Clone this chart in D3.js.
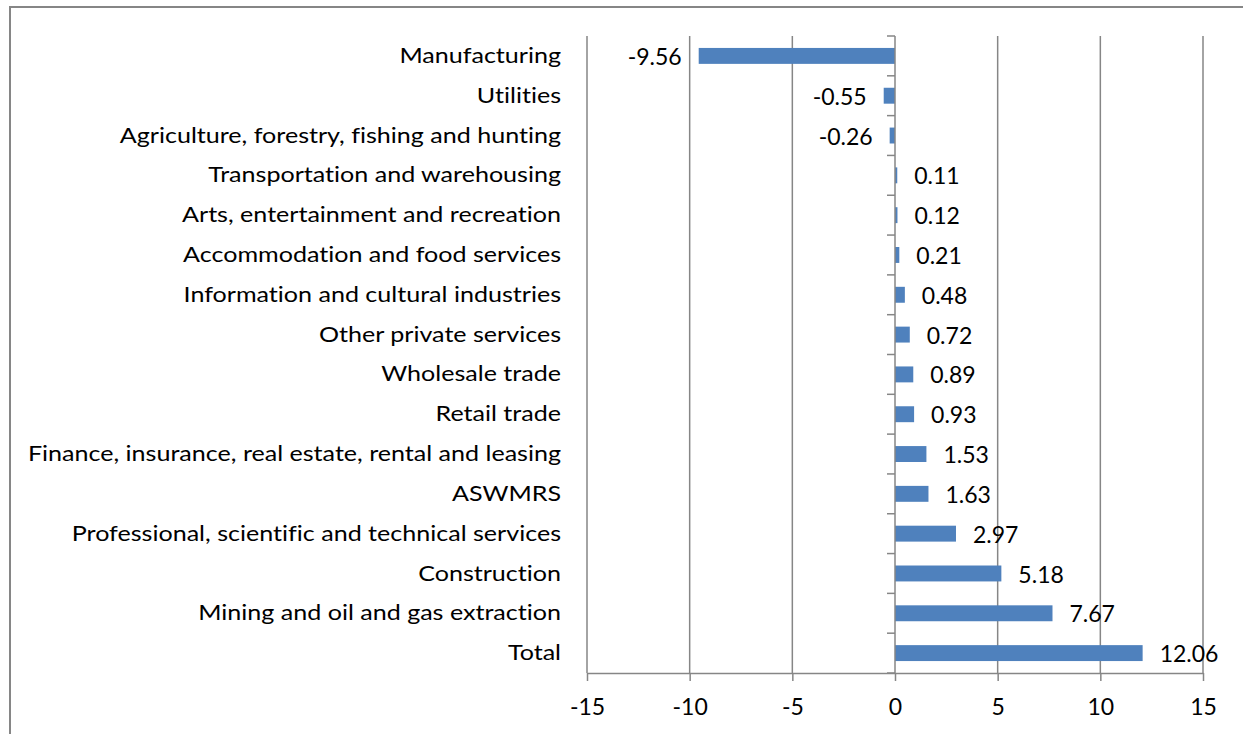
<!DOCTYPE html>
<html>
<head>
<meta charset="utf-8">
<script src="https://cdn.jsdelivr.net/npm/d3@7"></script>
<style>
  html, body { margin: 0; padding: 0; background: #ffffff; }
  svg { display: block; }
  text { font-family: Lato, "Open Sans", sans-serif; fill: #000; font-variant-ligatures: none; }
</style>
</head>
<body>
<svg id="chart" width="1243" height="734"></svg>
<script>
// Industry contributions, top to bottom
const categories = [
  "Manufacturing",
  "Utilities",
  "Agriculture, forestry, fishing and hunting",
  "Transportation and warehousing",
  "Arts, entertainment and recreation",
  "Accommodation and food services",
  "Information and cultural industries",
  "Other private services",
  "Wholesale trade",
  "Retail trade",
  "Finance, insurance, real estate, rental and leasing",
  "ASWMRS",
  "Professional, scientific and technical services",
  "Construction",
  "Mining and oil and gas extraction",
  "Total"
];
const values = [-9.56, -0.55, -0.26, 0.11, 0.12, 0.21, 0.48, 0.72, 0.89, 0.93, 1.53, 1.63, 2.97, 5.18, 7.67, 12.06];
const xTicks = [-15, -10, -5, 0, 5, 10, 15];

const svg = d3.select("#chart");
const gridColor = "#868686";
const barColor = "#4f81bd";

// Outer chart frame (top and left edges)
svg.append("path")
  .attr("d", "M10,734 V7 H1243")
  .attr("fill", "none")
  .attr("stroke", gridColor)
  .attr("stroke-width", 2);

const plot = { left: 587, right: 1203, top: 36, bottom: 673 };

const x = d3.scaleLinear().domain([-15, 15]).range([plot.left, plot.right]);
const y = d3.scaleBand().domain(categories).range([plot.top, plot.bottom])
  .paddingInner(0.6).paddingOuter(0.3);

// Vertical gridlines
svg.append("g")
  .selectAll("line")
  .data(xTicks.filter(d => d !== 0))
  .join("line")
  .attr("x1", d => x(d)).attr("x2", d => x(d))
  .attr("y1", plot.top).attr("y2", plot.bottom)
  .attr("stroke", gridColor)
  .attr("stroke-width", 1.5);

// Value axis along the bottom
const xAxis = svg.append("g")
  .attr("transform", `translate(0,${plot.bottom})`)
  .call(d3.axisBottom(x).tickValues(xTicks).tickFormat(d => String(d))
    .tickSize(8).tickPadding(18).tickSizeOuter(0));
xAxis.select(".domain").attr("stroke", gridColor).attr("stroke-width", 1.5);
xAxis.selectAll(".tick line").attr("stroke", gridColor).attr("stroke-width", 1.5);
xAxis.selectAll(".tick text").style("font-size", "23px").attr("fill", "#000");

// Bars
svg.append("g")
  .selectAll("rect")
  .data(values)
  .join("rect")
  .attr("x", (d) => x(Math.min(0, d)))
  .attr("y", (d, i) => y(categories[i]))
  .attr("width", d => Math.abs(x(d) - x(0)))
  .attr("height", y.bandwidth())
  .attr("fill", barColor);

// Category axis line at zero with ticks between categories
const step = y.step();
const boundaries = d3.range(categories.length + 1).map(i => plot.top + i * step);
const catAxis = svg.append("g");
catAxis.append("line")
  .attr("x1", x(0)).attr("x2", x(0))
  .attr("y1", plot.top).attr("y2", plot.bottom)
  .attr("stroke", gridColor).attr("stroke-width", 1.5);
catAxis.selectAll("line.tick")
  .data(boundaries)
  .join("line")
  .attr("class", "tick")
  .attr("x1", x(0) - 8).attr("x2", x(0))
  .attr("y1", d => d).attr("y2", d => d)
  .attr("stroke", gridColor).attr("stroke-width", 1.5);

// Category labels, left of the plot (slightly widened lettering)
const yAxis = svg.append("g")
  .attr("transform", "translate(561,0) scale(1.14,1)")
  .call(d3.axisLeft(y).tickSize(0).tickPadding(0));
yAxis.select(".domain").remove();
yAxis.selectAll(".tick text").style("font-size", "22px").attr("fill", "#000");

// Value labels at bar ends
svg.append("g")
  .selectAll("text")
  .data(values)
  .join("text")
  .attr("x", d => d < 0 ? x(d) - 17 : x(d) + 17)
  .attr("y", (d, i) => y(categories[i]) + y.bandwidth() / 2 + 1)
  .attr("dy", "0.35em")
  .attr("text-anchor", d => d < 0 ? "end" : "start")
  .style("font-size", "23px")
  .text(d => d.toFixed(2));
</script>
</body>
</html>
